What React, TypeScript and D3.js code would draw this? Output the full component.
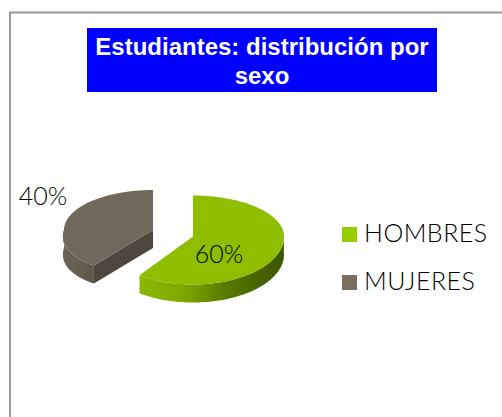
import React from "react";
import * as d3 from "d3";

const categories = ["HOMBRES", "MUJERES"];
const values = [60, 40];
const pctLabels = ["60%", "40%"];
const titleLines = ["Estudiantes: distribución por", "sexo"];
const topColors = ["#8fbe00", "#71675b"];
const legendColors = ["#99cc00", "#7a6e60"];

const W = 502, H = 417;
const depth = 18;
const geom = [
  { cx: 193, cy: 236.5, rx: 91, ryBack: 41, ryFront: 48, skew: 0 },
  { cx: 153, cy: 230, rx: 89, ryBack: 40, ryFront: 44, skew: 0.16 },
];
const labelPos = [{ x: 219, y: 263 }, { x: 43, y: 205 }];
const line = d3.line<[number, number]>();

export default function App() {
  // start at 12 o'clock, clockwise, in data order
  const arcs = d3.pie<number>().sort(null)(values);
  const project = (g: typeof geom[number], a: number, dy = 0): [number, number] => {
    const s = Math.sin(a), c = Math.cos(a);
    return [
      g.cx + g.rx * s * (1 + g.skew * Math.max(0, -c)),
      g.cy - c * (c > 0 ? g.ryBack : g.ryFront) + dy,
    ];
  };
  const samples = (a0: number, a1: number) =>
    d3.range(0, 121).map((i) => a0 + ((a1 - a0) * i) / 120);

  const slices = arcs.map((arc, i) => {
    const g = geom[i];
    const angs = samples(arc.startAngle, arc.endAngle);
    const rim = angs.map((a) => project(g, a));
    const top = line([[g.cx, g.cy], ...rim]) + "Z";
    // visible outer wall: the part of the rim facing the viewer
    const vis = angs.filter((a) => Math.cos(a) < 0.08);
    const upper = vis.map((a) => project(g, a));
    const lower = vis.map((a) => project(g, a, depth)).reverse();
    const wall = line([...upper, ...lower]) + "Z";
    const startP = project(g, arc.startAngle);
    const cut = line([
      [g.cx, g.cy],
      [g.cx, g.cy + depth],
      [startP[0], startP[1] + depth],
      startP,
    ]) + "Z";
    return { top, wall, cut, i };
  });

  return (
    <svg
      width={W}
      height={H}
      viewBox={`0 0 ${W} ${H}`}
      style={{ position: "absolute", left: 0, top: 0, display: "block" }}
    >
      <defs>
        <linearGradient id="wall0" gradientUnits="userSpaceOnUse" x1="138" x2="285" y1="0" y2="0">
          <stop offset="0" stopColor="#8ab800" />
          <stop offset="0.3" stopColor="#7fa900" />
          <stop offset="0.6" stopColor="#577a00" />
          <stop offset="0.85" stopColor="#456100" />
          <stop offset="1" stopColor="#3d5600" />
        </linearGradient>
        <linearGradient id="wall1" gradientUnits="userSpaceOnUse" x1="64" x2="96" y1="0" y2="0">
          <stop offset="0" stopColor="#6d6357" />
          <stop offset="1" stopColor="#5f554a" />
        </linearGradient>
        <filter id="soft" x="-5%" y="-5%" width="110%" height="110%">
          <feGaussianBlur stdDeviation="0.45" />
        </filter>
      </defs>
      <rect x={0} y={0} width={W} height={H} fill="#fff" />
      <path d={`M10 ${H}V12.5H${W}`} fill="none" stroke="#999" strokeWidth={2} />

      <rect x={87} y={28} width={350} height={64} fill="#0000ff" />
      {titleLines.map((t, i) => (
        <text
          key={t}
          x={262}
          y={55 + i * 28.5}
          textAnchor="middle"
          fill="#fff"
          fontFamily="Liberation Sans"
          fontWeight={700}
          fontSize={24}
        >
          {t}
        </text>
      ))}

      <g filter="url(#soft)">
        {slices.map((s) => (
          <g key={s.i}>
            {s.i === 1 && <path d={s.cut} fill="#4f463c" />}
            <path d={s.wall} fill={`url(#wall${s.i})`} />
            <path d={s.top} fill={topColors[s.i]} />
          </g>
        ))}
      </g>

      {pctLabels.map((t, i) => (
        <text
          key={t}
          x={labelPos[i].x}
          y={labelPos[i].y}
          textAnchor="middle"
          fill="#000"
          fontFamily="Lato"
          fontWeight={300}
          fontSize={25}
        >
          {t}
        </text>
      ))}

      {categories.map((c, i) => (
        <g key={c}>
          <rect x={342} y={227 + i * 48} width={15} height={15} fill={legendColors[i]} />
          <text
            x={364}
            y={242 + i * 48}
            fill="#000"
            fontFamily="Lato"
            fontWeight={300}
            fontSize={25}
            letterSpacing={0.5}
          >
            {c}
          </text>
        </g>
      ))}
    </svg>
  );
}
